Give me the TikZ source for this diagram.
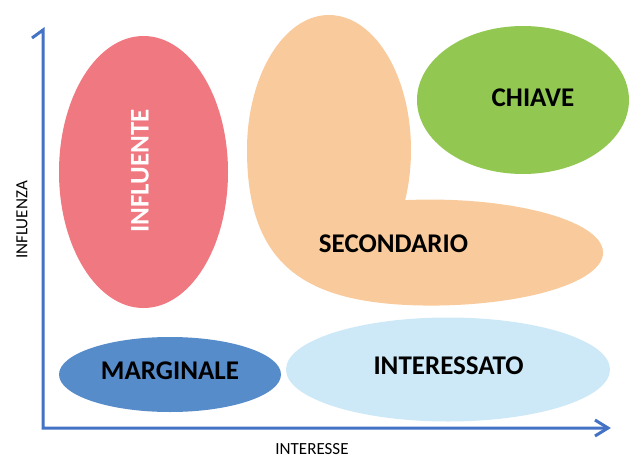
\documentclass[tikz,border=0pt]{standalone}
\usepackage{fontspec}
\setmainfont{Carlito}
\usetikzlibrary{shapes.geometric}
\definecolor{axisblue}{HTML}{4472C4}
\definecolor{inflcol}{HTML}{F07880}
\definecolor{seccol}{HTML}{F9CA9B}
\definecolor{keycol}{HTML}{92C851}
\definecolor{margcol}{HTML}{578CCA}
\definecolor{intcol}{HTML}{CDE9F7}
\begin{document}
\begin{tikzpicture}[x=1pt,y=-1pt,
  blob/.style={ellipse, inner sep=0pt, draw=none},
  lab/.style={font=\bfseries\fontsize{27}{27}\selectfont, text=black, inner sep=0pt},
  axislab/.style={font=\fontsize{17}{17}\selectfont, text=black, inner sep=0pt},
  axisline/.style={draw=axisblue, line width=3pt}]
\useasboundingbox (0,0) rectangle (637,458);
\fill[white] (0,0) rectangle (637,458);
% shapes
\node[blob, fill=inflcol, minimum width=169pt, minimum height=272pt] (infl) at (143.5,172) {};
% secondario: one freeform blob (y axis points down, so angles run clockwise)
\fill[seccol] (247,150)
  arc[start angle=180, end angle=381.8, x radius=82, y radius=135]
  arc[start angle=261.7, end angle=450, x radius=173, y radius=53]
  .. controls (310,305) and (247,270) .. (247,150) -- cycle;
\node[blob, fill=keycol, minimum width=212pt, minimum height=148pt] (key) at (523,100) {};
\node[blob, fill=margcol, minimum width=222pt, minimum height=75pt] (marg) at (170,374.5) {};
\node[blob, fill=intcol, minimum width=324pt, minimum height=104pt] (inter) at (448,369.5) {};
% labels
\node[lab, text=white, rotate=90] (tinfl) at (140,171) {INFLUENTE};
\node[lab] (tsec) at (393.5,244) {SECONDARIO};
\node[lab] (tkey) at (533,97.5) {CHIAVE};
\node[lab] (tmarg) at (170,371) {MARGINALE};
\node[lab] (tint) at (448.5,366) {INTERESSATO};
% axes
\coordinate (o) at (43,428);
\coordinate (ytop) at (43,30);
\coordinate (yarm) at (32,38);
\coordinate (xend) at (608,428);
\coordinate (xarmA) at (595,420);
\coordinate (xarmB) at (595,436);
\draw[axisline, line join=miter] (yarm) -- (ytop) -- (o) -- (xend);
\draw[axisline, line join=miter] (xarmA) -- (xend) -- (xarmB);
\node[axislab, rotate=90] (ylab) at (22,220) {INFLUENZA};
\node[axislab] (xlab) at (312,449.5) {INTERESSE};
\end{tikzpicture}
\end{document}
